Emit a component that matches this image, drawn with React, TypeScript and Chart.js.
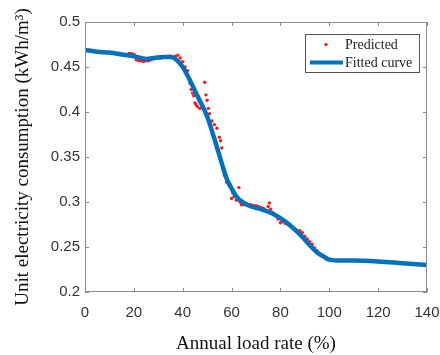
import React, { useEffect, useRef } from "react";
import { Chart, registerables } from "chart.js";
Chart.register(...registerables);

const fitX = [0, 5, 10, 15, 20, 25, 28, 32, 35, 37, 40, 43, 46, 50, 53, 56, 58, 60, 62, 65, 68, 72, 76, 80, 84, 88, 92, 95, 98, 100, 105, 110, 120, 130, 140];
const fitY = [0.469, 0.467, 0.466, 0.464, 0.462, 0.459, 0.46, 0.461, 0.461, 0.459, 0.45, 0.435, 0.418, 0.395, 0.37, 0.343, 0.326, 0.315, 0.306, 0.299, 0.295, 0.292, 0.288, 0.282, 0.274, 0.264, 0.252, 0.244, 0.239, 0.236, 0.235, 0.235, 0.234, 0.232, 0.23];

const predX = [18, 19, 20, 21, 22, 23, 24, 25, 26, 27, 28, 29, 30, 31, 32, 33, 34, 35, 36, 37, 38, 39, 40, 41, 42, 43, 43.5, 44, 44.5, 45, 45.5, 46, 47, 48, 49, 49.5, 50, 50.5, 51, 52, 53, 54, 55, 55.5, 56, 56.5, 57, 57.5, 58, 59, 60, 60.5, 61, 62, 63, 63.5, 64, 65, 66, 67, 68, 69, 70, 71, 72, 73, 74, 75, 75.5, 76, 77, 78, 79, 80, 81, 82, 83, 84, 85, 86, 87, 88, 89, 90, 91, 92, 93, 94, 95, 96, 97, 98, 99, 100];
const predY = [0.465, 0.465, 0.464, 0.458, 0.457, 0.457, 0.456, 0.457, 0.457, 0.458, 0.459, 0.461, 0.461, 0.46, 0.461, 0.461, 0.462, 0.462, 0.461, 0.462, 0.463, 0.46, 0.456, 0.45, 0.446, 0.432, 0.425, 0.421, 0.418, 0.41, 0.408, 0.406, 0.404, 0.405, 0.433, 0.419, 0.413, 0.404, 0.398, 0.39, 0.386, 0.382, 0.372, 0.368, 0.36, 0.336, 0.33, 0.328, 0.322, 0.318, 0.304, 0.31, 0.306, 0.302, 0.316, 0.3, 0.297, 0.297, 0.298, 0.297, 0.297, 0.296, 0.296, 0.295, 0.294, 0.293, 0.291, 0.295, 0.299, 0.292, 0.288, 0.285, 0.281, 0.277, 0.278, 0.276, 0.276, 0.274, 0.272, 0.27, 0.268, 0.268, 0.266, 0.262, 0.259, 0.256, 0.253, 0.249, 0.246, 0.243, 0.24, 0.238, 0.236, 0.236];

const xTicks = [0, 20, 40, 60, 80, 100, 120, 140];
const yTicks = [0.2, 0.25, 0.3, 0.35, 0.4, 0.45, 0.5];
const legendLabels = ["Predicted", "Fitted curve"];

const boxPlugin = {
  id: "boxPlugin",
  afterDraw(chart: any) {
    const { ctx, chartArea, scales } = chart;
    const { left, right, top, bottom } = chartArea;
    ctx.save();
    ctx.strokeStyle = "#8c8c8c";
    ctx.lineWidth = 1;
    ctx.strokeRect(left + 0.5, top + 0.5, right - left - 1, bottom - top - 1);
    const t = 4;
    ctx.beginPath();
    xTicks.forEach((v) => {
      const p = Math.round(scales.x.getPixelForValue(v)) + 0.5;
      ctx.moveTo(p, bottom);
      ctx.lineTo(p, bottom - t);
      ctx.moveTo(p, top);
      ctx.lineTo(p, top + t);
    });
    yTicks.forEach((v) => {
      const p = Math.round(scales.y.getPixelForValue(v)) + 0.5;
      ctx.moveTo(left, p);
      ctx.lineTo(left + t, p);
      ctx.moveTo(right, p);
      ctx.lineTo(right - t, p);
    });
    ctx.stroke();

    // legend
    const bw = 114, bh = 38;
    const bx = right - 8 - bw, by = top + 12;
    ctx.fillStyle = "#ffffff";
    ctx.fillRect(bx, by, bw, bh);
    ctx.strokeStyle = "#555555";
    ctx.strokeRect(bx + 0.5, by + 0.5, bw, bh);
    ctx.fillStyle = "#ff0000";
    ctx.beginPath();
    ctx.arc(bx + 21, by + 10.5, 1.6, 0, Math.PI * 2);
    ctx.fill();
    ctx.strokeStyle = "#0072BD";
    ctx.lineWidth = 4;
    ctx.beginPath();
    ctx.moveTo(bx + 5, by + 28.5);
    ctx.lineTo(bx + 38, by + 28.5);
    ctx.stroke();
    ctx.fillStyle = "#222222";
    ctx.font = "14px 'Liberation Serif', serif";
    ctx.textBaseline = "middle";
    ctx.textAlign = "left";
    ctx.fillText(legendLabels[0], bx + 40, by + 11);
    ctx.fillText(legendLabels[1], bx + 40, by + 29);
    ctx.restore();
  },
};

export default function App() {
  const ref = useRef<HTMLCanvasElement>(null);
  useEffect(() => {
    if (!ref.current) return;
    const chart = new Chart(ref.current, {
      type: "scatter",
      data: {
        datasets: [
          {
            label: legendLabels[0],
            data: predX.map((x, i) => ({ x, y: predY[i] })),
            pointRadius: 1.7,
            pointBackgroundColor: "#ff1a1a",
            pointBorderWidth: 0,
            showLine: false,
            order: 2,
          },
          {
            label: legendLabels[1],
            data: fitX.map((x, i) => ({ x, y: fitY[i] })),
            showLine: true,
            borderColor: "#0072BD",
            borderWidth: 4.5,
            pointRadius: 0,
            cubicInterpolationMode: "monotone",
            fill: false,
            order: 1,
          } as any,
        ],
      },
      options: {
        animation: false,
        responsive: false,
        layout: { padding: { top: 22, right: 13, left: 0, bottom: 0 } },
        plugins: { legend: { display: false }, tooltip: { enabled: false } },
        scales: {
          x: {
            type: "linear",
            min: 0,
            max: 140,
            afterBuildTicks: (s: any) => {
              s.ticks = xTicks.map((v) => ({ value: v }));
            },
            afterFit: (s: any) => {
              s.height = 63;
              s.paddingLeft = 0;
              s.paddingRight = 0;
            },
            grid: { display: false, drawTicks: false },
            border: { display: false },
            ticks: {
              padding: 12,
              color: "#333333",
              font: { family: "'Liberation Sans', Arial, sans-serif", size: 15 },
              callback: (v: any) => String(v),
            },
            title: {
              display: true,
              text: "Annual load rate (%)",
              color: "#111111",
              font: { family: "'Liberation Serif', serif", size: 19 },
              padding: { top: 6, bottom: 0 },
            },
          },
          y: {
            type: "linear",
            min: 0.2,
            max: 0.5,
            afterBuildTicks: (s: any) => {
              s.ticks = yTicks.map((v) => ({ value: v }));
            },
            afterFit: (s: any) => {
              s.width = 85;
              s.paddingTop = 0;
              s.paddingBottom = 0;
            },
            grid: { display: false, drawTicks: false },
            border: { display: false },
            ticks: {
              padding: 5,
              color: "#333333",
              font: { family: "'Liberation Sans', Arial, sans-serif", size: 15 },
              callback: (v: any) => String(Math.round(v * 100) / 100),
            },
            title: {
              display: true,
              text: "Unit electricity consumption (kWh/m³)",
              color: "#111111",
              font: { family: "'Liberation Serif', serif", size: 19 },
              padding: { top: 12, bottom: 4 },
            },
          },
        },
      },
      plugins: [boxPlugin],
    });
    return () => chart.destroy();
  }, []);
  return (
    <div style={{ position: "fixed", left: 0, top: 0, width: 440, height: 355, background: "#fff" }}>
      <canvas ref={ref} width={440} height={355} style={{ width: 440, height: 355 }} />
    </div>
  );
}
